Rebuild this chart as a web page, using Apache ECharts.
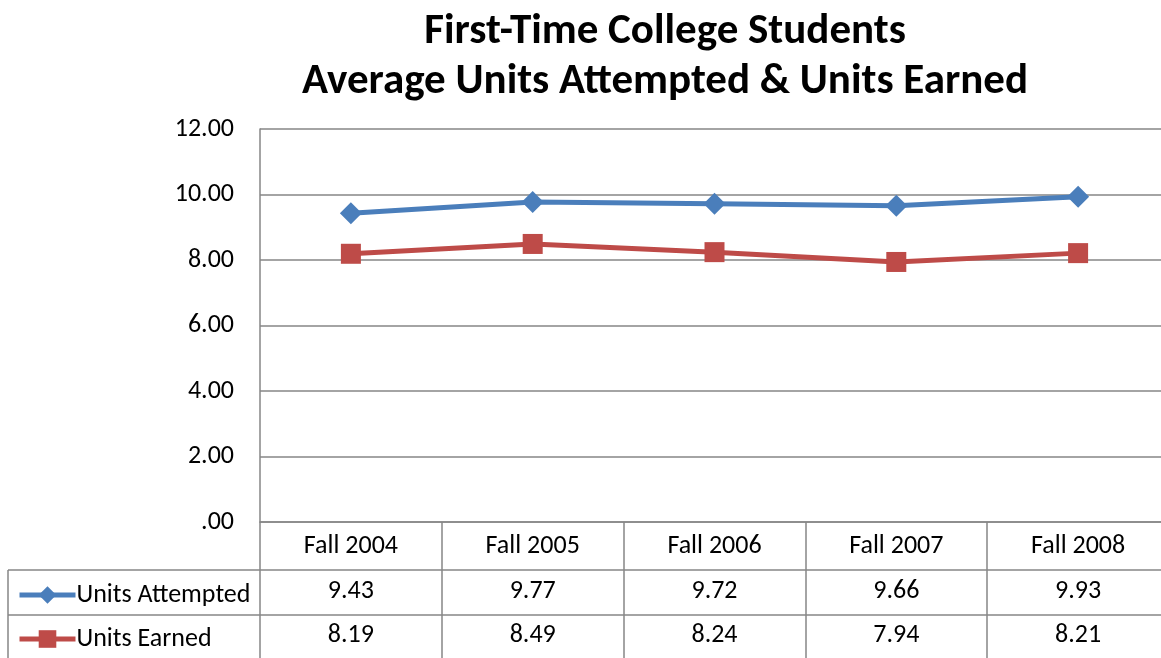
<!DOCTYPE html>
<html>
<head>
<meta charset="utf-8">
<script src="https://cdn.jsdelivr.net/npm/echarts@6/dist/echarts.min.js"></script>
<style>
  html, body { margin: 0; padding: 0; background: #fff; overflow: hidden; }
  #main { width: 1169px; height: 658px; }
</style>
</head>
<body>
<div id="main"></div>
<script>
// data
var terms = ['Fall 2004', 'Fall 2005', 'Fall 2006', 'Fall 2007', 'Fall 2008'];
var unitsAttempted = [9.43, 9.77, 9.72, 9.66, 9.93];
var unitsEarned = [8.19, 8.49, 8.24, 7.94, 8.21];

var fontFam = 'Carlito, Calibri, Lato, sans-serif';
var fontSize = 26;
var gridColor = '#868686';
var blue = '#4a7ebb';
var red = '#be4b48';

function fmt(v) {
    var s = Number(v).toFixed(2);
    return s.indexOf('0.') === 0 ? s.slice(1) : s;
}

// plot area runs a little past the right edge of the window, as in the original
var chart = echarts.init(document.getElementById('main'));

var legendText = {fontFamily: fontFam, fontSize: fontSize, color: '#000', padding: [0, 0, 0, -4]};

var option = {
    animation: false,
    backgroundColor: '#fff',
    title: {
        text: 'First-Time College Students\nAverage Units Attempted & Units Earned',
        left: 660,
        top: 2,
        textAlign: 'center',
        textStyle: {fontFamily: fontFam, fontSize: 43, fontWeight: 'bold', color: '#000', lineHeight: 50}
    },
    grid: {left: 260, top: 129, right: 0, height: 393},
    legend: [
        {data: ['Units Attempted'], left: 12, top: 577, itemWidth: 56, itemHeight: 22, itemGap: 0,
         lineStyle: {width: 5}, textStyle: legendText},
        {data: ['Units Earned'], left: 12, top: 621, itemWidth: 56, itemHeight: 22, itemGap: 0,
         lineStyle: {width: 5}, textStyle: legendText}
    ],
    xAxis: [
        {
            type: 'category', data: terms, boundaryGap: true,
            axisLine: {lineStyle: {color: gridColor, width: 1.5}},
            axisTick: {show: true, length: 140, lineStyle: {color: gridColor, width: 1.5}},
            axisLabel: {fontFamily: fontFam, fontSize: fontSize, color: '#000', margin: 11}
        },
        {
            type: 'category', data: unitsAttempted.map(fmt), position: 'bottom', offset: 46,
            axisLine: {show: false}, axisTick: {show: false},
            axisLabel: {fontFamily: fontFam, fontSize: fontSize, color: '#000', margin: 10}
        },
        {
            type: 'category', data: unitsEarned.map(fmt), position: 'bottom', offset: 90,
            axisLine: {show: false}, axisTick: {show: false},
            axisLabel: {fontFamily: fontFam, fontSize: fontSize, color: '#000', margin: 10}
        }
    ],
    yAxis: {
        type: 'value', min: 0, max: 12, interval: 2,
        axisLine: {show: true, lineStyle: {color: gridColor, width: 1.5}},
        axisTick: {show: false},
        splitLine: {lineStyle: {color: gridColor, width: 1.5}},
        axisLabel: {fontFamily: fontFam, fontSize: fontSize, color: '#000', margin: 26, formatter: fmt}
    },
    series: [
        {
            name: 'Units Attempted', type: 'line', data: unitsAttempted,
            symbol: 'diamond', symbolSize: 22,
            lineStyle: {color: blue, width: 5}, itemStyle: {color: blue}
        },
        {
            name: 'Units Earned', type: 'line', data: unitsEarned,
            symbol: 'rect', symbolSize: 20,
            lineStyle: {color: red, width: 5}, itemStyle: {color: red}
        }
    ],
    graphic: [
        // table row separators and left legend box
        {type: 'line', shape: {x1: 8, y1: 570, x2: 1169, y2: 570}, style: {stroke: gridColor, lineWidth: 1.5}},
        {type: 'line', shape: {x1: 8, y1: 615, x2: 1169, y2: 615}, style: {stroke: gridColor, lineWidth: 1.5}},
        {type: 'line', shape: {x1: 8, y1: 570, x2: 8, y2: 658}, style: {stroke: gridColor, lineWidth: 1.5}}
    ]
};

chart.setOption(option);
</script>
</body>
</html>
